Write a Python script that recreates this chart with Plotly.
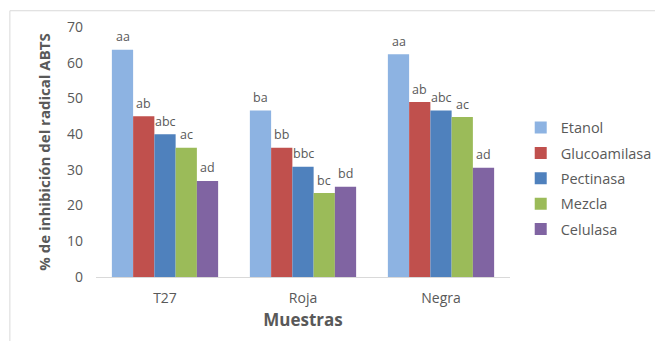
import plotly.graph_objects as go

categories = ["T27", "Roja", "Negra"]
series_names = ["Etanol", "Glucoamilasa", "Pectinasa", "Mezcla", "Celulasa"]
etanol = [63.6, 46.6, 62.4]
glucoamilasa = [45.0, 36.2, 49.0]
pectinasa = [40.0, 30.9, 46.6]
mezcla = [36.2, 23.5, 44.8]
celulasa = [26.9, 25.3, 30.6]
labels_etanol = ["aa", "ba", "aa"]
labels_glucoamilasa = ["ab", "bb", "ab"]
labels_pectinasa = ["abc", "bbc", "abc"]
labels_mezcla = ["ac", "bc", "ac"]
labels_celulasa = ["ad", "bd", "ad"]
y_ticks = [0, 10, 20, 30, 40, 50, 60, 70]

colors = ["#8DB3E2", "#C0504D", "#4F81BD", "#9BBB59", "#8064A2"]
values = [etanol, glucoamilasa, pectinasa, mezcla, celulasa]
labels = [labels_etanol, labels_glucoamilasa, labels_pectinasa, labels_mezcla, labels_celulasa]

FONT = "Open Sans"
GRAY = "#595959"
BARGAP = 0.23
n = len(series_names)
bar_w = (1 - BARGAP) / n

fig = go.Figure()
for i, (name, vals, lab, col) in enumerate(zip(series_names, values, labels, colors)):
    fig.add_trace(go.Bar(
        name=name, x=categories, y=vals,
        marker=dict(color=col, line=dict(width=0)),
        legendgroup=name,
        hoverinfo="skip",
    ))
    for ci, (v, t) in enumerate(zip(vals, lab)):
        fig.add_annotation(
            x=ci + (i - (n - 1) / 2) * bar_w, y=v, xref="x", yref="y",
            text=t, showarrow=False, yanchor="middle", yshift=13,
            font=dict(family=FONT, size=12.5, color=GRAY),
        )

fig.update_layout(
    width=655, height=341,
    margin=dict(l=96, r=145, t=27, b=64, autoexpand=False),
    paper_bgcolor="white", plot_bgcolor="white",
    barmode="group", bargap=BARGAP, bargroupgap=0,
    font=dict(family=FONT, color=GRAY),
    showlegend=True,
    legend=dict(
        xref="container", yref="container",
        x=0.795, y=0.476, xanchor="left", yanchor="middle",
        font=dict(family=FONT, size=14.5, color=GRAY),
        itemwidth=30, tracegroupgap=3.5, traceorder="grouped",
        bgcolor="rgba(0,0,0,0)",
    ),
)
fig.update_xaxes(
    showline=True, linecolor="#D9D9D9", linewidth=1,
    showgrid=False, ticks="", ticklabelstandoff=8,
    tickfont=dict(family=FONT, size=14, color=GRAY),
    title=dict(text="<b>Muestras</b>", font=dict(family=FONT, size=17, color=GRAY), standoff=8),
)
fig.update_yaxes(
    range=[0, 70], tickvals=y_ticks, showgrid=False, zeroline=False,
    showline=False, ticks="", ticklabelstandoff=12,
    tickfont=dict(family=FONT, size=14, color=GRAY),
    title=dict(text="<b>% de inhibición del radical ABTS</b>", font=dict(family=FONT, size=15, color=GRAY), standoff=12),
)
# outer chart border (top and left only visible)
fig.add_shape(type="line", xref="paper", yref="paper", x0=-0.208, x1=1.6, y0=1.065, y1=1.065,
              line=dict(color="#D9D9D9", width=1))
fig.add_shape(type="line", xref="paper", yref="paper", x0=-0.208, x1=-0.208, y0=1.065, y1=-0.3,
              line=dict(color="#D9D9D9", width=1))

fig.write_html("out.html")
